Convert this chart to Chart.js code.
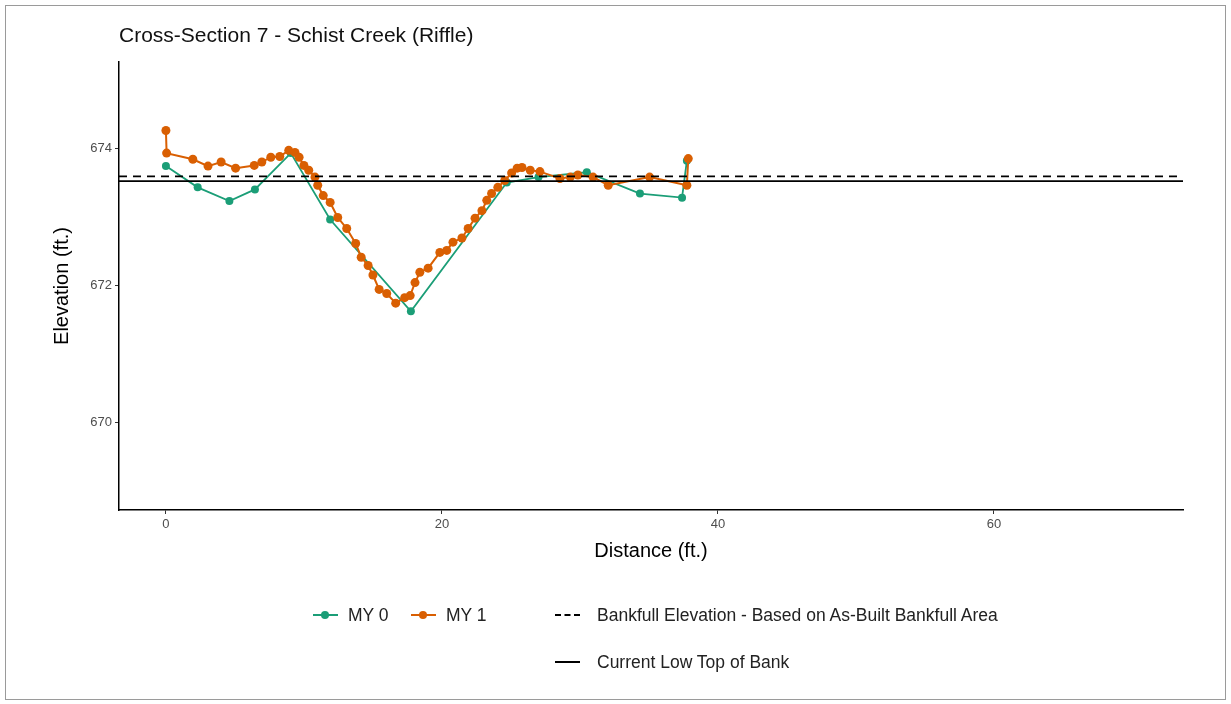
<!DOCTYPE html>
<html>
<head>
<meta charset="utf-8">
<script src="https://cdn.jsdelivr.net/npm/chart.js@4.4.1/dist/chart.umd.min.js"></script>
<style>
body { margin: 0; background: #fff; font-family: "Liberation Sans", Arial, sans-serif; }
#wrap { position: relative; width: 1231px; height: 704px; overflow: hidden; background: #fff; }
#frame { position: absolute; left: 5px; top: 5px; width: 1219px; height: 693px; border: 1px solid #9a9a9a; }
canvas { position: absolute; left: 0; top: 0; }
#title { position: absolute; left: 119px; top: 23px; font-size: 21px; color: #111; white-space: nowrap; }
.leg { position: absolute; display: flex; align-items: center; font-size: 17.5px; color: #222; white-space: nowrap; height: 20px; }
.sw { position: relative; width: 25px; height: 20px; }
.sw .ln { position: absolute; left: 0; right: 0; top: 9px; height: 0; }
.sw .dot { position: absolute; left: 8px; top: 6px; width: 8px; height: 8px; border-radius: 50%; }
</style>
</head>
<body>
<div id="wrap">
  <div id="frame"></div>
  <canvas id="xsChart" width="1231" height="704"></canvas>
  <div id="title">Cross-Section 7 - Schist Creek (Riffle)</div>
  <div id="legend"></div>
</div>
<script>
// survey data
const my0Dist = [0, 2.3, 4.6, 6.45, 9.05, 11.9, 17.75, 24.7, 27.0, 30.5, 34.35, 37.4, 37.75];
const my0Elev = [673.74, 673.43, 673.23, 673.40, 673.93, 672.96, 671.62, 673.50, 673.58, 673.65, 673.34, 673.28, 673.82];

const my1Dist = [0, 0.05, 1.95, 3.05, 4.0, 5.05, 6.4, 6.95, 7.6, 8.25, 8.9, 9.35, 9.65, 10.0, 10.35, 10.8, 11.0, 11.4, 11.9,
  12.45, 13.1, 13.75, 14.15, 14.65, 15.0, 15.45, 16.0, 16.65, 17.3, 17.7, 18.05, 18.4, 19.0, 19.85, 20.35, 20.8, 21.45,
  21.9, 22.4, 22.9, 23.25, 23.6, 24.05, 24.55, 25.05, 25.45, 25.8, 26.4, 27.1, 28.55, 29.3, 29.85, 30.95, 32.05, 35.05, 37.75, 37.85];
const my1Elev = [674.26, 673.93, 673.84, 673.74, 673.80, 673.71, 673.75, 673.80, 673.87, 673.88, 673.97, 673.94, 673.87, 673.75, 673.68, 673.58, 673.46, 673.31, 673.21,
  672.99, 672.83, 672.61, 672.41, 672.29, 672.15, 671.94, 671.88, 671.74, 671.82, 671.85, 672.04, 672.19, 672.25, 672.48, 672.51, 672.63, 672.69,
  672.83, 672.98, 673.09, 673.24, 673.34, 673.43, 673.53, 673.64, 673.71, 673.72, 673.68, 673.66, 673.56, 673.58, 673.61, 673.58, 673.46, 673.58, 673.46, 673.85];

const bankfullElev = 673.59;
const lowTopElev = 673.52;

const xMin = -3.4, xMax = 73.7;
const yMin = 668.72, yMax = 675.26;
const xTickValues = [0, 20, 40, 60];
const yTickValues = [670, 672, 674];

const green = '#1b9e77';
const orange = '#d95f02';

function pts(xs, ys) {
  return xs.map((x, i) => ({ x: x, y: ys[i] }));
}

const ctx = document.getElementById('xsChart').getContext('2d');
const chart = new Chart(ctx, {
  type: 'line',
  data: {
    datasets: [
      {
        label: 'MY 0',
        data: pts(my0Dist, my0Elev),
        borderColor: green,
        backgroundColor: green,
        borderWidth: 1.8,
        pointRadius: 4,
        pointBorderWidth: 0,
        order: 2
      },
      {
        label: 'MY 1',
        data: pts(my1Dist, my1Elev),
        borderColor: orange,
        backgroundColor: orange,
        borderWidth: 2,
        pointRadius: 4.5,
        pointBorderWidth: 0,
        order: 1
      },
      {
        label: 'Bankfull Elevation - Based on As-Built Bankfull Area',
        data: [{ x: xMin, y: bankfullElev }, { x: xMax, y: bankfullElev }],
        borderColor: '#000',
        borderWidth: 1.8,
        borderDash: [8, 6],
        pointRadius: 0,
        order: 0
      },
      {
        label: 'Current Low Top of Bank',
        data: [{ x: xMin, y: lowTopElev }, { x: xMax, y: lowTopElev }],
        borderColor: '#000',
        borderWidth: 1.8,
        pointRadius: 0,
        order: 0
      }
    ]
  },
  options: {
    responsive: false,
    animation: false,
    layout: { padding: { top: 62, left: 46, right: 48, bottom: 137 } },
    plugins: {
      legend: { display: false },
      title: { display: false },
      tooltip: { enabled: false }
    },
    scales: {
      x: {
        type: 'linear',
        min: xMin,
        max: xMax,
        afterBuildTicks: function(axis) { axis.ticks = xTickValues.map(v => ({ value: v })); },
        afterFit: function(scale) { scale.height = 57; },
        ticks: { color: '#4d4d4d', font: { size: 13 }, padding: 3, maxRotation: 0, autoSkip: false },
        grid: { drawOnChartArea: false, drawTicks: true, tickLength: 4, color: '#333' },
        border: { display: true, color: '#000', width: 1.5 },
        title: { display: true, text: 'Distance (ft.)', color: '#000', font: { size: 20 }, padding: { top: 2, bottom: 4 } }
      },
      y: {
        type: 'linear',
        min: yMin,
        max: yMax,
        afterBuildTicks: function(axis) { axis.ticks = yTickValues.map(v => ({ value: v })); },
        afterFit: function(scale) { scale.width = 73; },
        ticks: { color: '#4d4d4d', font: { size: 13 }, padding: 3, autoSkip: false },
        grid: { drawOnChartArea: false, drawTicks: true, tickLength: 4, color: '#333' },
        border: { display: true, color: '#000', width: 1.5 },
        title: { display: true, text: 'Elevation (ft.)', color: '#000', font: { size: 20 }, padding: { top: 4, bottom: 2 } }
      }
    }
  }
});

// legend laid out like the ggplot one (two rows)
const legendItems = [
  { ds: 0, left: 313, top: 605, gap: 10, dot: true },
  { ds: 1, left: 411, top: 605, gap: 10, dot: true },
  { ds: 2, left: 555, top: 605, gap: 17, dash: true },
  { ds: 3, left: 555, top: 652, gap: 17 }
];
const legendEl = document.getElementById('legend');
legendItems.forEach(function(item) {
  const ds = chart.data.datasets[item.ds];
  const div = document.createElement('div');
  div.className = 'leg';
  div.style.left = item.left + 'px';
  div.style.top = item.top + 'px';
  const sw = document.createElement('div');
  sw.className = 'sw';
  sw.style.marginRight = item.gap + 'px';
  const ln = document.createElement('div');
  ln.className = 'ln';
  ln.style.borderTop = '2px ' + (item.dash ? 'dashed ' : 'solid ') + ds.borderColor;
  sw.appendChild(ln);
  if (item.dot) {
    const dot = document.createElement('div');
    dot.className = 'dot';
    dot.style.background = ds.borderColor;
    sw.appendChild(dot);
  }
  div.appendChild(sw);
  const txt = document.createElement('span');
  txt.textContent = ds.label;
  div.appendChild(txt);
  legendEl.appendChild(div);
});
</script>
</body>
</html>
